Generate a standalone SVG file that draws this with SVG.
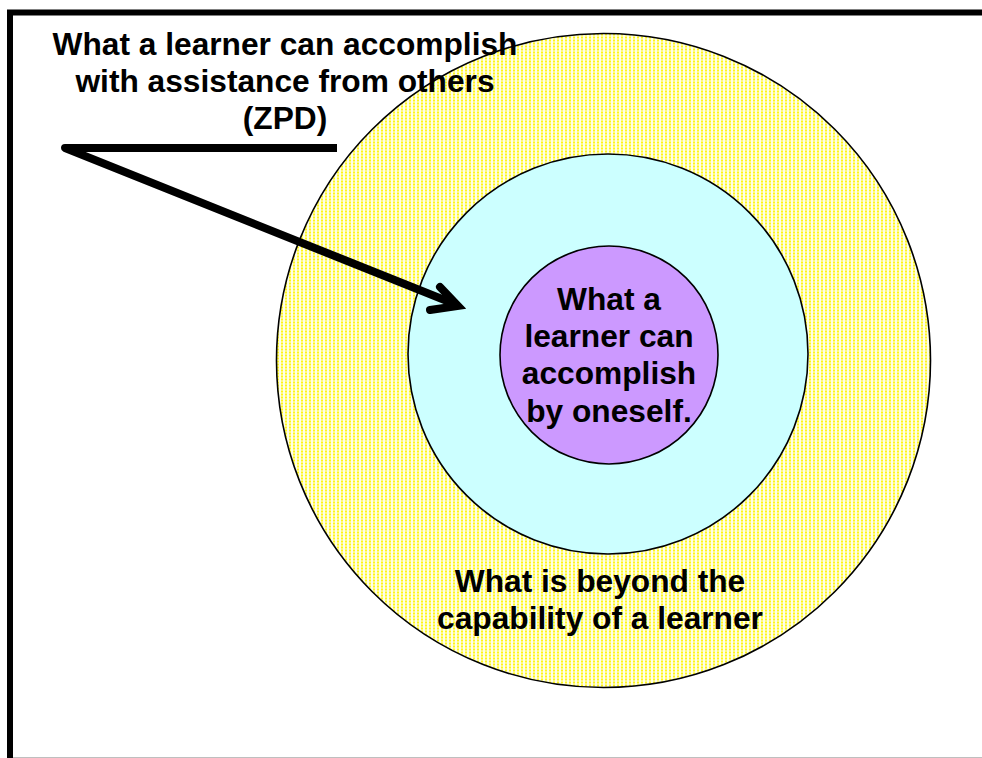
<svg xmlns="http://www.w3.org/2000/svg" width="982" height="758" viewBox="0 0 982 758">
<style>
.t{font-family:"Liberation Sans",Arial,sans-serif;font-weight:bold;font-size:31.7px;fill:#000;text-anchor:middle}
.ring{stroke:#000;stroke-width:1.6}
.conn{fill:none;stroke:#000;stroke-width:8}
</style>
<defs>
<pattern id="dots" width="4" height="3" patternUnits="userSpaceOnUse">
<rect width="4" height="3" fill="#FFFFE6"/>
<rect x="1" y="0.5" width="2" height="2" fill="#FFF51A"/>
</pattern>
</defs>
<rect width="982" height="758" fill="#fff"/>
<g id="frame">
<path d="M10 758 V12.5 H982" fill="none" stroke="#000" stroke-width="6"/>
<line x1="13" y1="757.5" x2="982" y2="757.5" stroke="#bfbfbf" stroke-width="1"/>
</g>
<g id="outer">
<circle class="ring" cx="603.5" cy="360.5" r="327" fill="url(#dots)"/>
<text class="t" x="600" y="592">What is beyond the</text>
<text class="t" x="600" y="629">capability of a learner</text>
</g>
<g id="middle">
<circle class="ring" cx="608" cy="354" r="200" fill="#CCFFFF"/>
</g>
<g id="inner">
<circle class="ring" cx="609" cy="355" r="109" fill="#CC99FF"/>
<text class="t" x="609" y="309.5">What a</text>
<text class="t" x="609" y="347">learner can</text>
<text class="t" x="609" y="384">accomplish</text>
<text class="t" x="609" y="421.5">by oneself.</text>
</g>
<g id="zpd-label">
<text class="t" x="285" y="55">What a learner can accomplish</text>
<text class="t" x="285" y="92">with assistance from others</text>
<text class="t" x="285" y="129">(ZPD)</text>
</g>
<g id="connectors">
<path class="conn" d="M337 148 H65 L457 305" stroke-linejoin="round" stroke-linecap="butt"/>
<path class="conn" d="M440 287 L458 306 L430 310" stroke-linejoin="miter" stroke-linecap="round"/>
</g>
</svg>
